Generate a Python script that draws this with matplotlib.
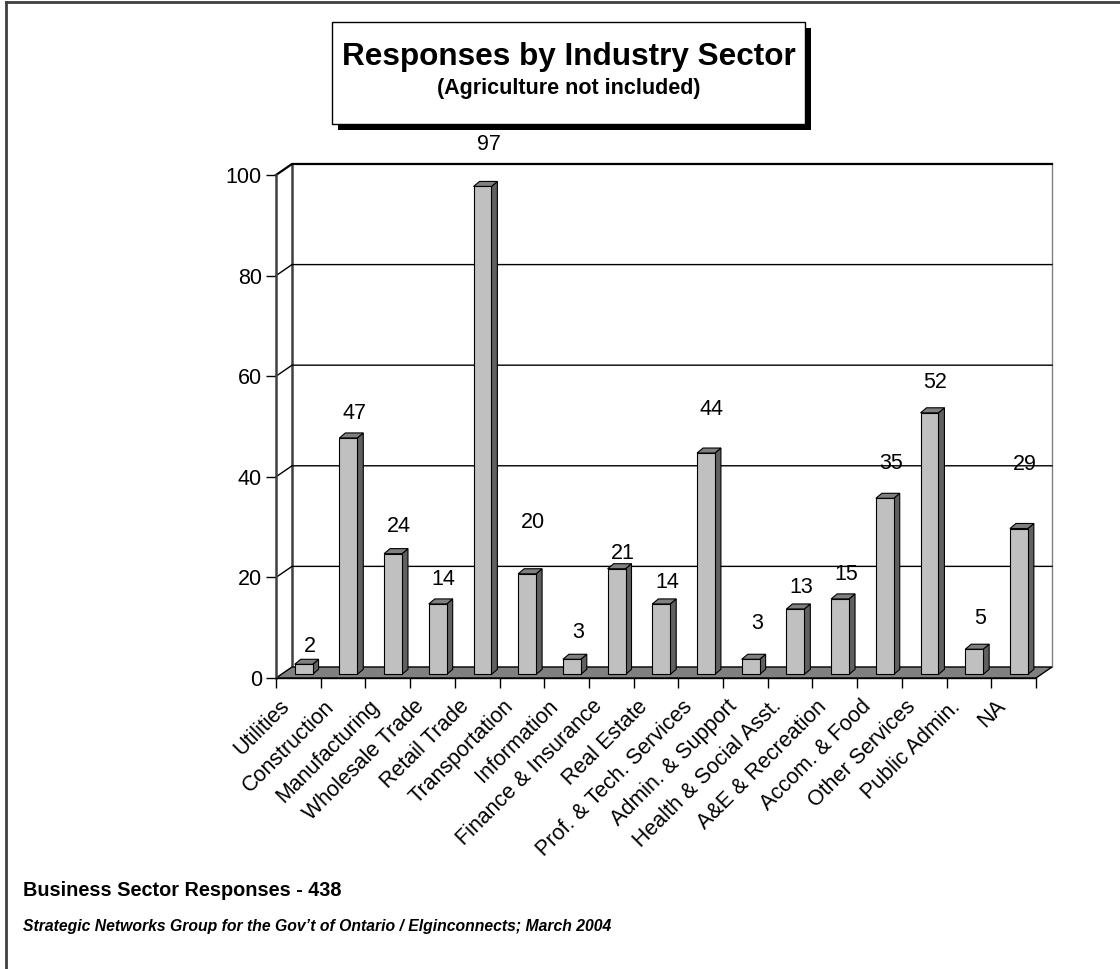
import matplotlib
matplotlib.use('Agg')
import matplotlib.pyplot as plt
from matplotlib.patches import Polygon, Rectangle
from matplotlib.transforms import ScaledTranslation

sectors = ['Utilities', 'Construction', 'Manufacturing', 'Wholesale Trade', 'Retail Trade',
           'Transportation', 'Information', 'Finance & Insurance', 'Real Estate',
           'Prof. & Tech. Services', 'Admin. & Support', 'Health & Social Asst.',
           'A&E & Recreation', 'Accom. & Food', 'Other Services', 'Public Admin.', 'NA']
responses = [2, 47, 24, 14, 97, 20, 3, 21, 14, 44, 3, 13, 15, 35, 52, 5, 29]
# how far each value label floats above its bar (chart units), as in the original
label_lift = [3.6, 4.8, 5.3, 4.8, 8.4, 10.1, 5.4, 3.1, 4.2, 8.7, 7.2, 4.2, 4.8, 7.0, 6.1, 6.2, 12.8]
yticks = [0, 20, 40, 60, 80, 100]

W, H = 1120, 969
plt.rcParams['font.family'] = ['Liberation Sans', 'DejaVu Sans']

fig = plt.figure(figsize=(W / 100, H / 100), dpi=100)

# page-level canvas in pixels (frame, title box, footer)
canvas = fig.add_axes([0, 0, 1, 1], zorder=-1)
canvas.set_xlim(0, W)
canvas.set_ylim(H, 0)
canvas.axis('off')

# front plane of the 3-d chart box
n = len(responses)
ax = fig.add_axes([276 / W, 1 - 678 / H, 760 / W, 503 / H])
ax.patch.set_visible(False)
ax.set_xlim(0, n)
ax.set_ylim(0, 100)

dx, dy = 0.358, 2.19      # depth of floor and walls
fx, fy = 0.118, 0.72      # bar front inside that depth
bw, bdx, bdy = 0.40, 0.134, 1.0

# back wall + gridlines
ax.plot([dx, dx], [dy, 100 + dy], color='#404040', lw=1.8, clip_on=False, zorder=1)
ax.plot([n + dx, n + dx], [dy, 100 + dy], color='#808080', lw=1, clip_on=False, zorder=1)
for v in yticks[1:]:
    ax.plot([0, dx, n + dx], [v, v + dy, v + dy], color='black',
            lw=1.6 if v == 100 else 1, clip_on=False, zorder=1)

# floor
ax.add_patch(Polygon([(0, 0), (n, 0), (n + dx, dy), (dx, dy)], closed=True,
                     fc='#808080', ec='black', lw=1, clip_on=False, zorder=2))

# bars
for i, v in enumerate(responses):
    x0 = i + 0.5 - bw / 2 + fx
    x1 = x0 + bw
    top = fy + v
    ax.add_patch(Polygon([(x1, fy), (x1 + bdx, fy + bdy), (x1 + bdx, top + bdy), (x1, top)],
                         closed=True, fc='#606060', ec='black', lw=0.8, clip_on=False, zorder=3))
    ax.add_patch(Polygon([(x0, top), (x1, top), (x1 + bdx, top + bdy), (x0 + bdx, top + bdy)],
                         closed=True, fc='#808080', ec='black', lw=0.8, clip_on=False, zorder=3))
    ax.add_patch(Rectangle((x0, fy), bw, v, fc='#c0c0c0', ec='black', lw=0.8,
                           clip_on=False, zorder=3))
    ax.text(x0 + bw / 2 + bdx, top + label_lift[i], str(v), ha='center', va='center',
            fontsize=15.5, zorder=4)

# axes lines and ticks
for s in ['top', 'right']:
    ax.spines[s].set_visible(False)
ax.spines['left'].set_color('#404040')
ax.spines['left'].set_linewidth(1.8)
ax.spines['bottom'].set_linewidth(1)
ax.set_yticks(yticks)
ax.tick_params(axis='y', length=7.2, width=1, pad=3, labelsize=15.5)
ax.set_xticks(range(n + 1))
ax.set_xticklabels([])
ax.tick_params(axis='x', length=7.2, width=1)

shift = ax.transData + ScaledTranslation(-0.19, -0.18, fig.dpi_scale_trans)
for i, s in enumerate(sectors):
    ax.text(i + 0.5, 0, s, rotation=45, rotation_mode='anchor', ha='right', va='top',
            fontsize=15.5, transform=shift)

# page frame
canvas.plot([6, 6], [2, H], color='#404040', lw=2)
canvas.plot([6, W], [2, 2], color='#404040', lw=2)

# title box with shadow
canvas.add_patch(Rectangle((338, 28), 473, 102, fc='black', ec='none'))
canvas.add_patch(Rectangle((332, 22), 473, 102, fc='white', ec='black', lw=1))
canvas.text(568.5, 65, 'Responses by Industry Sector', ha='center', va='baseline',
            fontsize=22.7, weight='bold')
canvas.text(568.5, 94, '(Agriculture not included)', ha='center', va='baseline',
            fontsize=15.5, weight='bold')

# footer
canvas.text(23, 896, 'Business Sector Responses - 438', fontsize=14.3, weight='bold')
canvas.text(23, 931, 'Strategic Networks Group for the Gov\u2019t of Ontario / Elginconnects; March 2004',
            fontsize=11.3, weight='bold', style='italic')

fig.savefig('out.png', dpi=100)
